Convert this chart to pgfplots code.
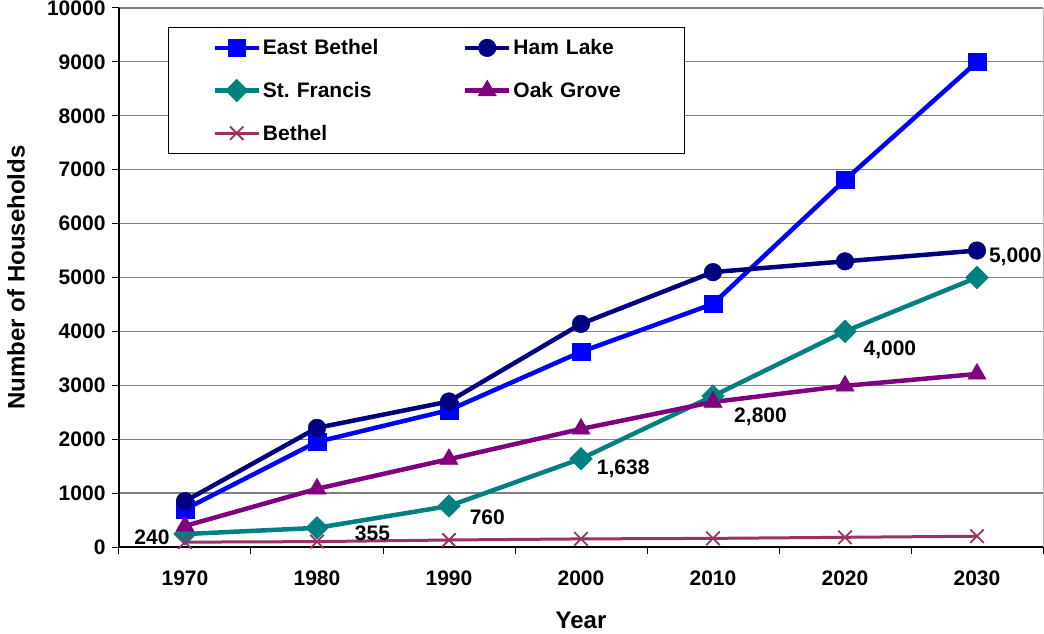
\documentclass[border=0pt]{standalone}
\usepackage{fontspec}
\setmainfont{Liberation Sans}
\usepackage{pgfplots}
\pgfplotsset{compat=1.18}
\definecolor{ebeth}{RGB}{0,0,255}
\definecolor{ham}{RGB}{0,0,128}
\definecolor{stf}{RGB}{0,128,128}
\definecolor{oak}{RGB}{128,0,128}
\definecolor{beth}{RGB}{153,51,102}
\newcommand{\tf}{\fontsize{21}{25}\selectfont\bfseries}
\newcommand{\lf}{\fontsize{24}{28}\selectfont\bfseries}
\begin{document}
\begin{tikzpicture}
\useasboundingbox (-119pt,-87pt) rectangle (925pt,547pt);
\begin{axis}[
  at={(0pt,0pt)}, anchor=south west,
  scale only axis, width=924pt, height=539pt,
  xmin=-0.5, xmax=6.5, ymin=0, ymax=10000,
  scaled y ticks=false,
  clip=false,
  axis x line*=bottom, axis y line*=left,
  axis line style={-, black, line width=1.2pt},
  xtick={0,...,6},
  xticklabels={1970,1980,1990,2000,2010,2020,2030},
  minor xtick={-0.5,0.5,...,6.5},
  major x tick style={draw=none},
  minor x tick style={black, line width=1pt},
  minor tick length=7pt,
  ytick={0,1000,...,10000},
  y tick style={black, line width=1pt},
  major tick length=7pt,
  tick align=outside,
  ymajorgrids,
  major grid style={gray, line width=1.2pt},
  /pgf/number format/assume math mode=true,
  /pgf/number format/1000 sep={},
  tick label style={font=\tf},
  xticklabel style={yshift=-13pt},
  yticklabel style={xshift=-3pt},
  xlabel={Year}, ylabel={Number of Households},
  label style={font=\lf},
  xlabel style={at={(axis description cs:0.5,-0.1354)}, anchor=center},
  ylabel style={at={(axis description cs:-0.1115,0.5)}, anchor=center, rotate=0},
  legend columns=2,
  legend cell align=left,
  legend image code/.code={\draw[mark repeat=2,mark phase=2] plot coordinates {(0pt,0pt)(22pt,0pt)(44pt,0pt)};},
  legend style={at={(0.0530,0.9647)}, anchor=north west, draw=black, line width=1pt,
    inner xsep=44pt, inner ysep=10pt, row sep=21pt, font=\tf,
    nodes={inner xsep=2pt, inner ysep=2pt, text width=125pt, align=left},
    /tikz/every even column/.append style={column sep=73pt}},
]
\addplot[color=ebeth, line width=4.5pt, mark=square*, mark size=8.8pt, mark options={solid, line width=0.5pt}]
 coordinates {(0,700)(1,1950)(2,2540)(3,3620)(4,4510)(5,6810)(6,9000)};
\addlegendentry{East Bethel}
\addplot[color=ham, line width=4.5pt, mark=*, mark size=8.8pt, mark options={solid, line width=0.5pt}]
 coordinates {(0,850)(1,2210)(2,2700)(3,4140)(4,5100)(5,5300)(6,5500)};
\addlegendentry{Ham Lake}
\addplot[color=stf, line width=4.5pt, mark=square*, mark size=8pt, mark options={solid, rotate=45, line width=0.5pt}]
 coordinates {(0,240)(1,355)(2,760)(3,1638)(4,2800)(5,4000)(6,5000)};
\addlegendentry{St.\ Francis}
\addplot[color=oak, line width=4.5pt, mark=triangle*, mark size=10.5pt, mark options={solid, line width=0.5pt}]
 coordinates {(0,390)(1,1080)(2,1630)(3,2190)(4,2690)(5,2990)(6,3210)};
\addlegendentry{Oak Grove}
\addplot[color=beth, line width=3pt, mark=x, mark size=9.5pt, mark options={solid, line width=1.8pt}]
 coordinates {(0,90)(1,100)(2,130)(3,150)(4,160)(5,180)(6,200)};
\addlegendentry{Bethel}
\draw[gray!60, line width=1pt] (axis cs:6.5,0) -- (axis cs:6.5,10000);
\node[font=\tf] at (axis cs:-0.25,185) {240};
\node[font=\tf] at (axis cs:1.42,260) {355};
\node[font=\tf] at (axis cs:2.29,557) {760};
\node[font=\tf] at (axis cs:3.32,1450) {1,638};
\node[font=\tf] at (axis cs:4.36,2411) {2,800};
\node[font=\tf] at (axis cs:5.34,3655) {4,000};
\node[font=\tf] at (axis cs:6.29,5380) {5,000};
\end{axis}
\end{tikzpicture}
\end{document}
